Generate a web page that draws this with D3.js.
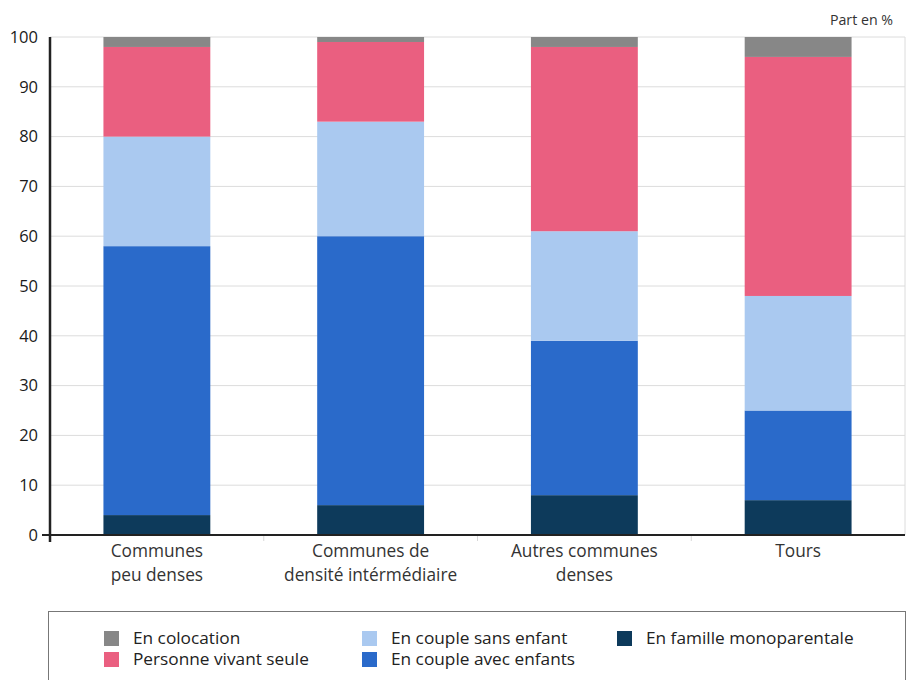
<!DOCTYPE html>
<html>
<head>
<meta charset="utf-8">
<script src="https://cdn.jsdelivr.net/npm/d3@7"></script>
<style>
  html, body { margin: 0; padding: 0; background: #fff; }
  svg { display: block; font-family: "Open Sans", "Noto Sans", sans-serif; }
</style>
</head>
<body>
<svg id="chart" width="908" height="680"></svg>
<script>
// Household composition by type of commune (share in %)
const categories = [
  ["Communes", "peu denses"],
  ["Communes de", "densité intérmédiaire"],
  ["Autres communes", "denses"],
  ["Tours"]
];
const seriesNames = ["En famille monoparentale", "En couple avec enfants", "En couple sans enfant", "Personne vivant seule", "En colocation"];
const monoparentale = [4, 6, 8, 7];
const avecEnfants   = [54, 54, 31, 18];
const sansEnfant    = [22, 23, 22, 23];
const vivantSeule   = [18, 16, 37, 48];
const colocation    = [2, 1, 2, 4];
const yTicks = [0, 10, 20, 30, 40, 50, 60, 70, 80, 90, 100];
const colors = ["#0d3a5b", "#2a6aca", "#aac9f0", "#ea5f80", "#878787"];
const legendOrder = [4, 3, 2, 1, 0];

const seriesValues = [monoparentale, avecEnfants, sansEnfant, vivantSeule, colocation];
const rows = categories.map((c, i) => {
  const r = { key: i };
  seriesNames.forEach((s, j) => { r[s] = seriesValues[j][i]; });
  return r;
});
const stacked = d3.stack().keys(seriesNames)(rows);

const svg = d3.select("#chart");
const plotLeft = 50, plotRight = 905, plotTop = 37, plotBottom = 535;

const x = d3.scaleBand().domain(d3.range(categories.length)).range([plotLeft, plotRight])
  .paddingInner(0.5).paddingOuter(0.25);
const y = d3.scaleLinear().domain([0, 100]).range([plotBottom, plotTop]);

// gridlines
svg.append("g").selectAll("line").data(yTicks.filter(t => t > 0)).join("line")
  .attr("x1", plotLeft).attr("x2", plotRight)
  .attr("y1", d => y(d)).attr("y2", d => y(d))
  .attr("stroke", "#dcdcdc").attr("stroke-width", 1);
svg.append("line").attr("x1", plotRight).attr("x2", plotRight).attr("y1", plotTop).attr("y2", plotBottom)
  .attr("stroke", "#dcdcdc");

// stacked bars
svg.append("g").selectAll("g").data(stacked).join("g")
  .attr("fill", (d, i) => colors[i])
  .selectAll("rect").data(d => d).join("rect")
  .attr("x", (d, i) => x(i))
  .attr("width", x.bandwidth())
  .attr("y", d => y(d[1]))
  .attr("height", d => y(d[0]) - y(d[1]));

// category separators under the baseline
const step = x.step();
svg.append("g").selectAll("line").data(d3.range(1, categories.length)).join("line")
  .attr("x1", d => x(d) - step * 0.25).attr("x2", d => x(d) - step * 0.25)
  .attr("y1", plotBottom + 1).attr("y2", plotBottom + 6)
  .attr("stroke", "#d8d8d8");

// x axis baseline
svg.append("line").attr("x1", 42).attr("x2", plotRight).attr("y1", plotBottom).attr("y2", plotBottom)
  .attr("stroke", "#222").attr("stroke-width", 2);
// y axis line
svg.append("line").attr("x1", plotLeft).attr("x2", plotLeft).attr("y1", plotTop).attr("y2", plotBottom + 7)
  .attr("stroke", "#222").attr("stroke-width", 2.5);

// y axis labels
const yAxis = d3.axisLeft(y).tickValues(yTicks).tickSize(0).tickPadding(12);
const ya = svg.append("g").attr("transform", `translate(${plotLeft},0)`).call(yAxis);
ya.select(".domain").remove();
ya.selectAll("text").attr("font-size", 16.5).attr("fill", "#1a1a1a")
  .attr("font-family", "'Open Sans', sans-serif");

// category labels
const cl = svg.append("g").selectAll("text").data(categories).join("text")
  .attr("x", (d, i) => x(i) + x.bandwidth() / 2)
  .attr("y", 557)
  .attr("text-anchor", "middle")
  .attr("font-size", 17.3).attr("fill", "#333");
cl.selectAll("tspan").data(d => d).join("tspan")
  .attr("x", function () { return d3.select(this.parentNode).attr("x"); })
  .attr("dy", (d, i) => i === 0 ? 0 : 24)
  .text(d => d);

// unit label
svg.append("text").attr("x", 893).attr("y", 25).attr("text-anchor", "end")
  .attr("font-size", 14.2).attr("fill", "#333").text("Part en %");

// legend
svg.append("rect").attr("x", 48.5).attr("y", 611.5).attr("width", 857).attr("height", 80)
  .attr("fill", "#fff").attr("stroke", "#777").attr("stroke-width", 1);
const colX = [104, 362, 617];
const legend = svg.append("g").selectAll("g").data(legendOrder).join("g")
  .attr("transform", (d, k) => `translate(${colX[Math.floor(k / 2)]},${631 + (k % 2) * 21})`);
legend.append("rect").attr("width", 15).attr("height", 15).attr("fill", d => colors[d]);
legend.append("text").attr("x", 29).attr("y", 13)
  .attr("font-size", 15.4).attr("fill", "#222")
  .attr("transform", "translate(29,0) scale(1.12,1) translate(-29,0)")
  .text(d => seriesNames[d]);
</script>
</body>
</html>
